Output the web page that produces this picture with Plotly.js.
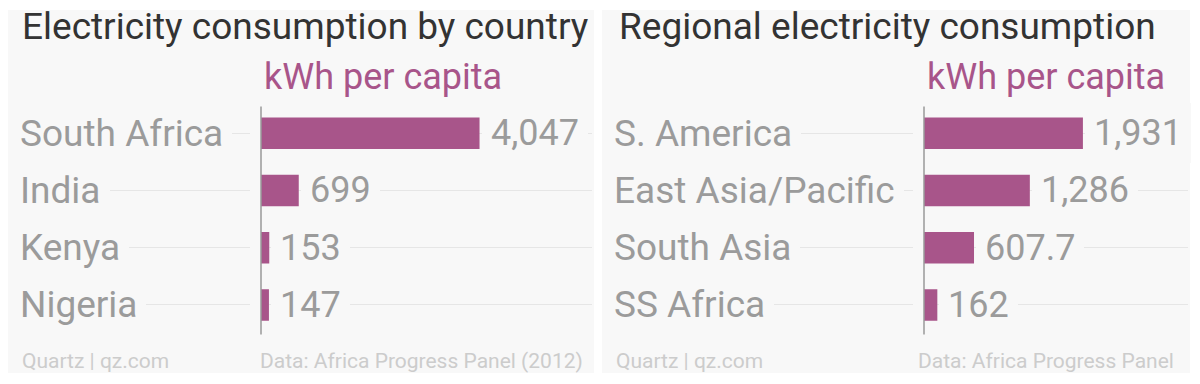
<!DOCTYPE html>
<html>
<head>
<meta charset="utf-8">
<script src="https://cdn.plot.ly/plotly-3.0.1.min.js"></script>
<style>
  html, body { margin: 0; padding: 0; background: #ffffff; }
  #chart { width: 1200px; height: 384px; }
</style>
</head>
<body>
<div id="chart"></div>
<script>
// ---- data ----
const countries = ['South Africa', 'India', 'Kenya', 'Nigeria'];
const countryValues = [4047, 699, 153, 147];
const countryValueLabels = ['4,047', '699', '153', '147'];

const regions = ['S. America', 'East Asia/Pacific', 'South Asia', 'SS Africa'];
const regionValues = [1931, 1286, 607.7, 162];
const regionValueLabels = ['1,931', '1,286', '607.7', '162'];

const panelTitles = ['Electricity consumption by country', 'Regional electricity consumption'];
const unitLabel = 'kWh per capita';
const creditLabel = 'Quartz | qz.com';
const sourceLabels = ['Data: Africa Progress Panel (2012)', 'Data: Africa Progress Panel'];

// ---- layout constants (pixels) ----
const W = 1200, H = 384;
const FONT = 'Roboto, "Open Sans", sans-serif';
const BAR = '#a8558a';
const PANEL_BG = '#f8f8f8';
const LABEL_GRAY = '#9b9b9b';
const PAD = 9;

const panels = [
  { bgX0: 8,   bgX1: 594,  plotX0: 12,  plotX1: 592,  zero: 261, pxPerUnit: 0.0540,
    labelX: 20, titleX: 20, creditX: 20, sourceRight: 585,
    cats: countries, vals: countryValues, texts: countryValueLabels },
  { bgX0: 602, bgX1: 1190, plotX0: 606, plotX1: 1188, zero: 924, pxPerUnit: 0.0823,
    labelX: 614, titleX: 617, creditX: 614, sourceRight: 1176,
    cats: regions, vals: regionValues, texts: regionValueLabels }
];
const plotTop = 104.5, plotBottom = 333.6;
const py = v => 1 - v / H;

const data = [];
const bgShapes = [];
const shapes = [];
const annotations = [];
const layout = {
  width: W, height: H,
  margin: { l: 0, r: 0, t: 0, b: 0, pad: 0 },
  paper_bgcolor: '#ffffff',
  plot_bgcolor: 'rgba(0,0,0,0)',
  showlegend: false,
  hovermode: false,
  bargap: 0.45,
  font: { family: FONT }
};

panels.forEach((p, i) => {
  const xa = i === 0 ? 'x' : 'x2';
  const ya = i === 0 ? 'y' : 'y2';
  const xKey = i === 0 ? 'xaxis' : 'xaxis2';
  const yKey = i === 0 ? 'yaxis' : 'yaxis2';

  data.push({
    type: 'bar', orientation: 'h',
    x: p.vals, y: p.cats,
    xaxis: xa, yaxis: ya,
    marker: { color: BAR, line: { width: 0 } },
    hoverinfo: 'skip'
  });

  layout[xKey] = {
    domain: [p.plotX0 / W, p.plotX1 / W],
    range: [(p.plotX0 - p.zero) / p.pxPerUnit, (p.plotX1 - p.zero) / p.pxPerUnit],
    showgrid: false, zeroline: false, showline: false, showticklabels: false, ticks: '',
    fixedrange: true, anchor: ya
  };
  layout[yKey] = {
    domain: [py(plotBottom), py(plotTop)],
    type: 'category',
    categoryorder: 'array', categoryarray: p.cats,
    range: [p.cats.length - 0.5, -0.5],
    showgrid: true, gridcolor: '#e6e6e6', gridwidth: 1,
    zeroline: false, showline: false, showticklabels: false, ticks: '',
    fixedrange: true, anchor: xa
  };

  // panel background
  bgShapes.push({
    type: 'rect', xref: 'paper', yref: 'paper', layer: 'below',
    x0: p.bgX0 / W, x1: p.bgX1 / W, y0: py(373), y1: py(10),
    fillcolor: PANEL_BG, line: { width: 0 }
  });
  // gap between gridlines and the axis
  shapes.push({
    type: 'rect', xref: xa, yref: 'paper', layer: 'above',
    x0: -11 / p.pxPerUnit, x1: 0, y0: py(plotBottom + 2), y1: py(plotTop - 2),
    fillcolor: PANEL_BG, line: { width: 0 }
  });
  // axis line at zero
  shapes.push({
    type: 'line', xref: xa, yref: 'paper', layer: 'above',
    x0: 0, x1: 0, y0: py(plotBottom + 1), y1: py(plotTop + 2),
    line: { color: '#9a9a9a', width: 1.5 }
  });

  // title
  annotations.push({
    xref: 'paper', yref: 'paper', x: p.titleX / W, y: py(26),
    xanchor: 'left', yanchor: 'middle', showarrow: false,
    text: panelTitles[i], font: { family: FONT, size: 37, color: '#333333' }
  });
  // unit label
  annotations.push({
    xref: xa, yref: 'paper', x: 0, y: py(77), xshift: 1,
    xanchor: 'left', yanchor: 'middle', showarrow: false,
    text: unitLabel, font: { family: FONT, size: 36, color: BAR }
  });
  // category labels
  p.cats.forEach(c => {
    annotations.push({
      xref: 'paper', yref: ya, x: (p.labelX - PAD) / W, y: c,
      xanchor: 'left', yanchor: 'middle', showarrow: false,
      text: c, bgcolor: PANEL_BG, borderpad: PAD, borderwidth: 0,
      font: { family: FONT, size: 37, color: LABEL_GRAY }
    });
  });
  // value labels
  p.cats.forEach((c, k) => {
    annotations.push({
      xref: xa, yref: ya, x: p.vals[k], y: c, xshift: 11 - PAD,
      xanchor: 'left', yanchor: 'middle', showarrow: false,
      text: p.texts[k], bgcolor: PANEL_BG, borderpad: PAD, borderwidth: 0,
      font: { family: FONT, size: 36, color: LABEL_GRAY }
    });
  });
  // footer
  annotations.push({
    xref: 'paper', yref: 'paper', x: p.creditX / W, y: py(361),
    xanchor: 'left', yanchor: 'middle', showarrow: false,
    text: creditLabel, font: { family: FONT, size: 21, color: '#cccccc' }
  });
  annotations.push({
    xref: 'paper', yref: 'paper', x: p.sourceRight / W, y: py(361),
    xanchor: 'right', yanchor: 'middle', showarrow: false,
    text: sourceLabels[i], font: { family: FONT, size: 21, color: '#cccccc' }
  });
});

layout.shapes = bgShapes.concat(shapes);
layout.annotations = annotations;

Plotly.newPlot('chart', data, layout, { staticPlot: true, displayModeBar: false });
</script>
</body>
</html>
